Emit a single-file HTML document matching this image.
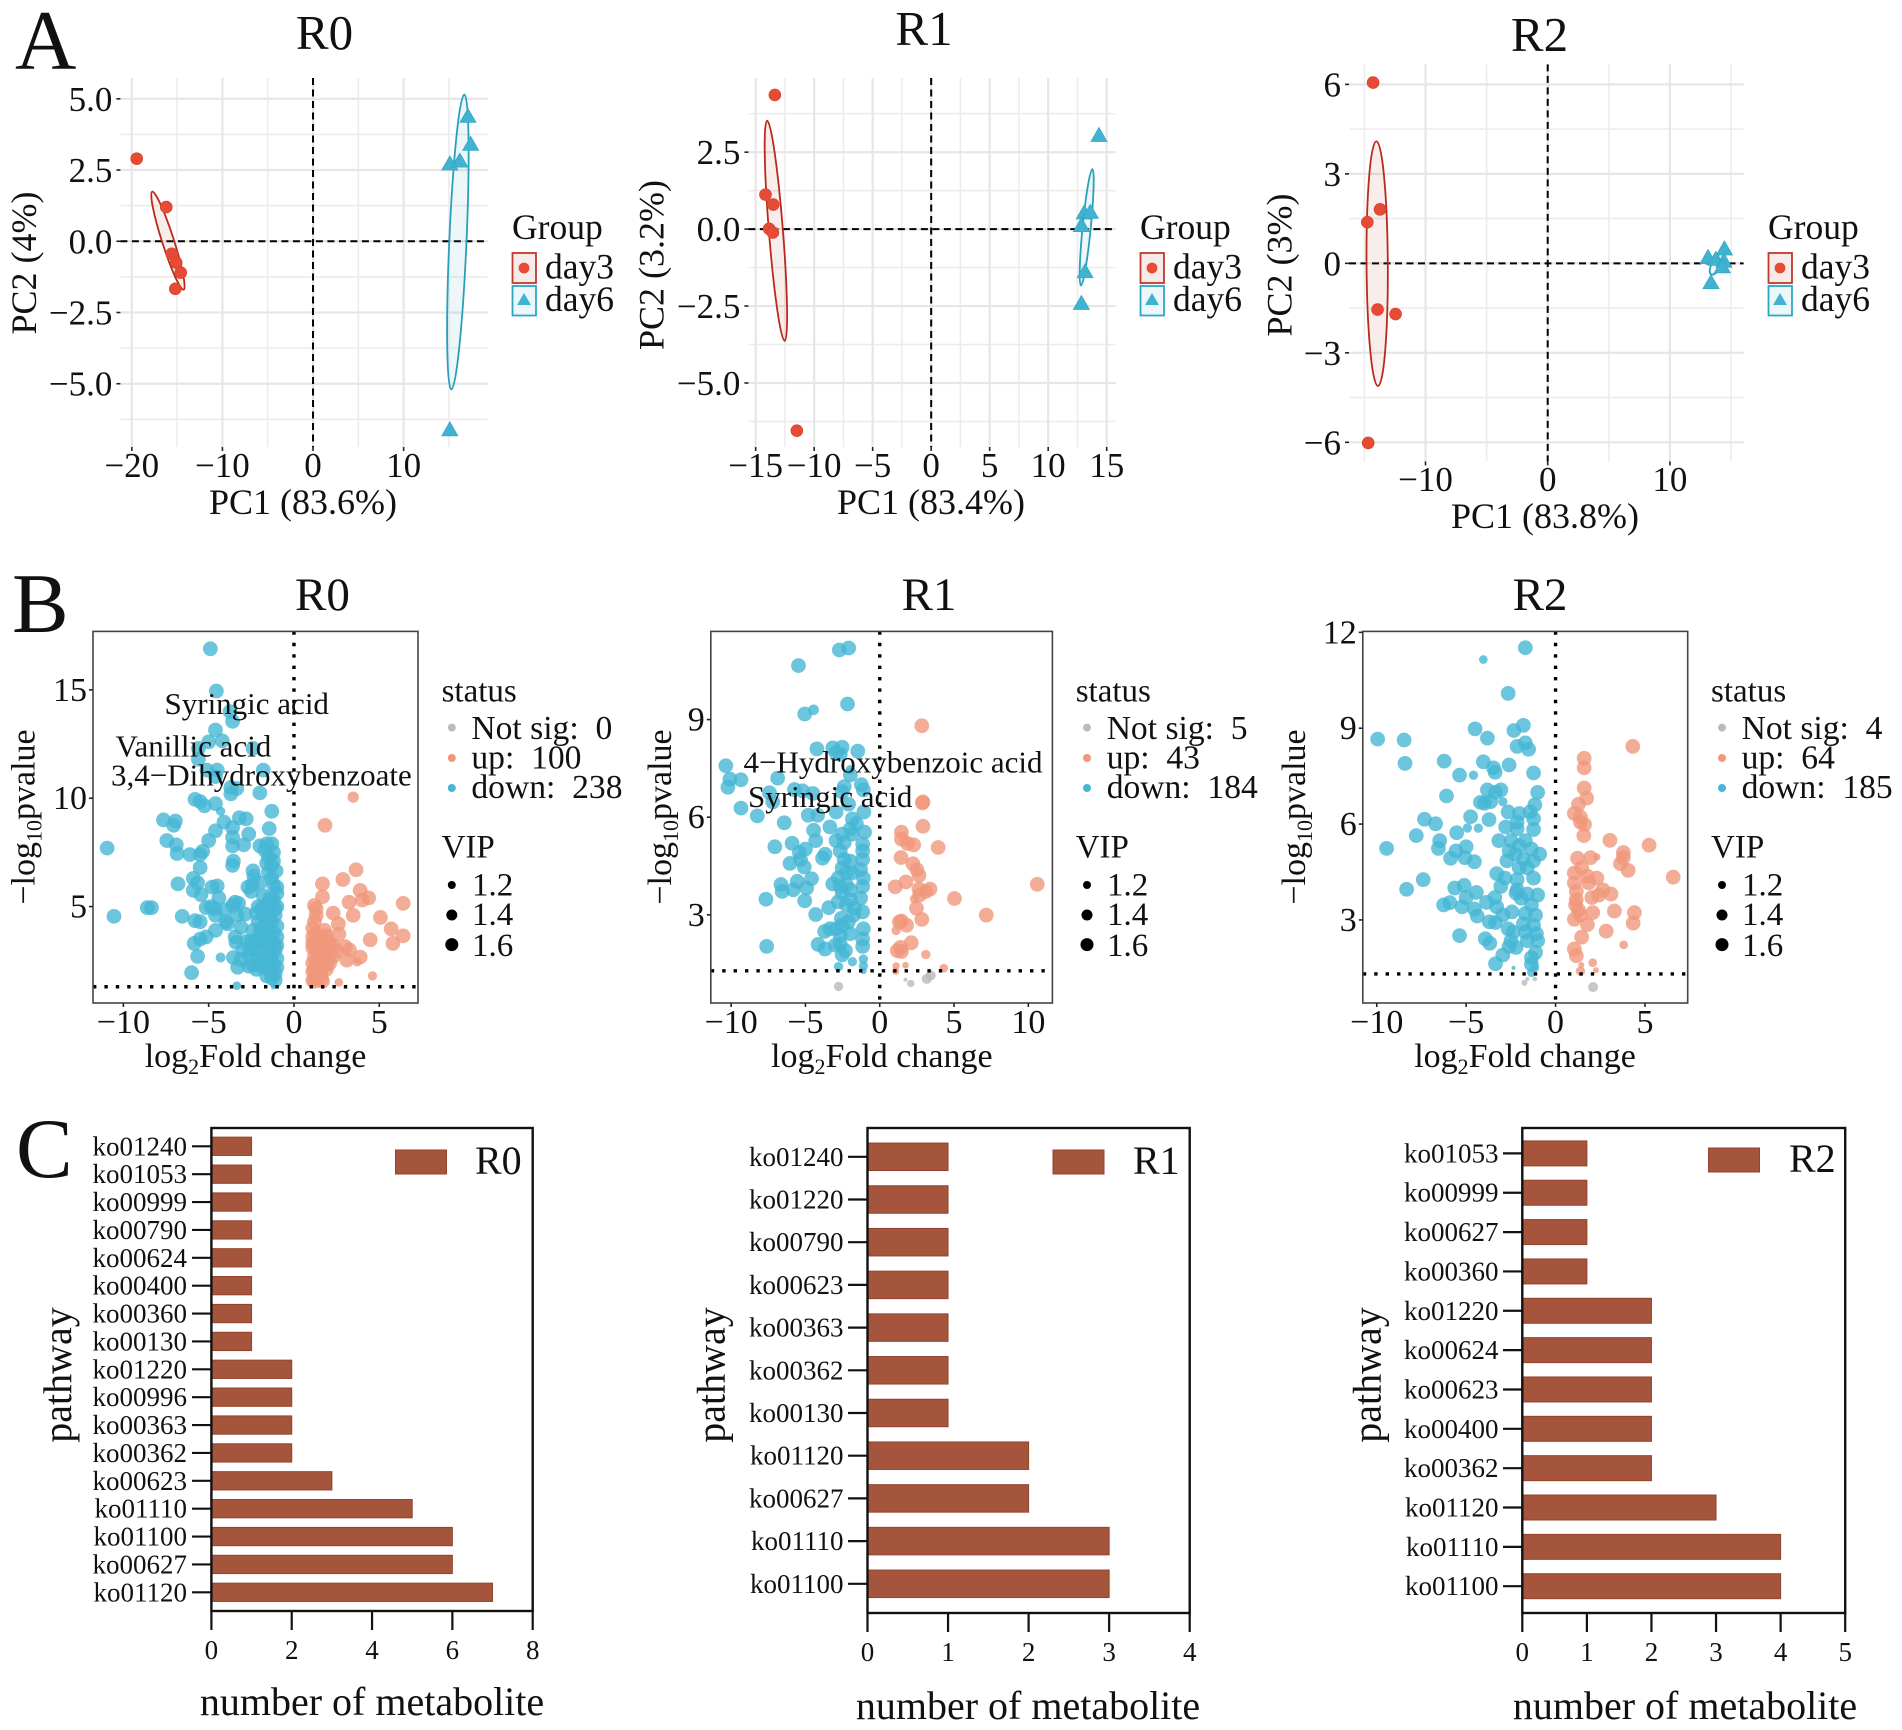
<!DOCTYPE html>
<html lang="en">
<head>
<meta charset="utf-8">
<title>Metabolomics multi-panel figure</title>
<style>
html,body{margin:0;padding:0;background:#fff;}
svg{display:block;}
text{font-family:"Liberation Serif",serif;fill:#111;white-space:pre;}
</style>
</head>
<body>
<svg id="figure" xmlns="http://www.w3.org/2000/svg" width="1902" height="1730" viewBox="0 0 1902 1730">
<rect x="0" y="0" width="1902" height="1730" fill="#fff"/>

<!-- Panel letters -->
<text x="15" y="69" font-size="85">A</text>
<text x="12" y="632" font-size="85">B</text>
<text x="16" y="1177" font-size="85">C</text>

<!-- A: PCA -->
<g id="pca-r0"></g>
<g id="pca-r1"></g>
<g id="pca-r2"></g>

<text x="324.5" y="49" font-size="49" text-anchor="middle">R0</text>
<text x="924" y="45" font-size="49" text-anchor="middle">R1</text>
<text x="1539.5" y="51" font-size="49" text-anchor="middle">R2</text>
<text x="303" y="514" font-size="36" text-anchor="middle">PC1 (83.6%)</text>
<text x="931" y="514" font-size="36" text-anchor="middle">PC1 (83.4%)</text>
<text x="1545" y="528" font-size="36" text-anchor="middle">PC1 (83.8%)</text>
<text x="36" y="263" font-size="36" text-anchor="middle" transform="rotate(-90 36 263)">PC2 (4%)</text>
<text x="663.5" y="265" font-size="36" text-anchor="middle" transform="rotate(-90 663.5 265)">PC2 (3.2%)</text>
<text x="1291.4" y="265" font-size="36" text-anchor="middle" transform="rotate(-90 1291.4 265)">PC2 (3%)</text>

<!-- A legends -->
<g>
<text x="512" y="239" font-size="35.5">Group</text>
<rect x="512.5" y="253" width="23.5" height="30" fill="#f6ebe8" stroke="#c0392b" stroke-width="1.8"/>
<circle cx="524" cy="268" r="5.4" fill="#e64b35"/>
<text x="545" y="278.5" font-size="35.5">day3</text>
<rect x="512.5" y="286" width="23.5" height="29.5" fill="#ecf7fa" stroke="#2ea6c4" stroke-width="1.8"/>
<polygon points="524,293 531,305 517,305" fill="#3fb3d0"/>
<text x="545" y="311" font-size="35.5">day6</text>
</g>
<g>
<text x="1140" y="239" font-size="35.5">Group</text>
<rect x="1140.5" y="253" width="23.5" height="30" fill="#f6ebe8" stroke="#c0392b" stroke-width="1.8"/>
<circle cx="1152" cy="268" r="5.4" fill="#e64b35"/>
<text x="1173" y="278.5" font-size="35.5">day3</text>
<rect x="1140.5" y="286" width="23.5" height="29.5" fill="#ecf7fa" stroke="#2ea6c4" stroke-width="1.8"/>
<polygon points="1152,293 1159,305 1145,305" fill="#3fb3d0"/>
<text x="1173" y="311" font-size="35.5">day6</text>
</g>
<g>
<text x="1768" y="239" font-size="35.5">Group</text>
<rect x="1768.5" y="253" width="23.5" height="30" fill="#f6ebe8" stroke="#c0392b" stroke-width="1.8"/>
<circle cx="1780" cy="268" r="5.4" fill="#e64b35"/>
<text x="1801" y="278.5" font-size="35.5">day3</text>
<rect x="1768.5" y="286" width="23.5" height="29.5" fill="#ecf7fa" stroke="#2ea6c4" stroke-width="1.8"/>
<polygon points="1780,293 1787,305 1773,305" fill="#3fb3d0"/>
<text x="1801" y="311" font-size="35.5">day6</text>
</g>

<!-- B: Volcano -->
<g id="volcano-r0"></g>
<g id="volcano-r1"></g>
<g id="volcano-r2"></g>

<text x="322.4" y="610" font-size="47" text-anchor="middle">R0</text>
<text x="929" y="610" font-size="47" text-anchor="middle">R1</text>
<text x="1540" y="610" font-size="47" text-anchor="middle">R2</text>

<text x="255.5" y="1067" font-size="34" text-anchor="middle">log<tspan font-size="22" dy="7">2</tspan><tspan dy="-7">Fold change</tspan></text>
<text x="881.8" y="1067" font-size="34" text-anchor="middle">log<tspan font-size="22" dy="7">2</tspan><tspan dy="-7">Fold change</tspan></text>
<text x="1525" y="1067" font-size="34" text-anchor="middle">log<tspan font-size="22" dy="7">2</tspan><tspan dy="-7">Fold change</tspan></text>
<text x="34.7" y="817" font-size="34" text-anchor="middle" transform="rotate(-90 34.7 817)">−log<tspan font-size="22" dy="7">10</tspan><tspan dy="-7">pvalue</tspan></text>
<text x="670.8" y="817" font-size="34" text-anchor="middle" transform="rotate(-90 670.8 817)">−log<tspan font-size="22" dy="7">10</tspan><tspan dy="-7">pvalue</tspan></text>
<text x="1305" y="817" font-size="34" text-anchor="middle" transform="rotate(-90 1305 817)">−log<tspan font-size="22" dy="7">10</tspan><tspan dy="-7">pvalue</tspan></text>

<text x="164.5" y="714" font-size="31">Syringic acid</text>
<text x="115.5" y="756.4" font-size="31">Vanillic acid</text>
<text x="111" y="785.3" font-size="31">3,4−Dihydroxybenzoate</text>
<text x="743.5" y="772.7" font-size="31">4−Hydroxybenzoic acid</text>
<text x="748" y="807" font-size="31">Syringic acid</text>

<!-- B legends -->
<g>
<text x="441.6" y="701.5" font-size="33">status</text>
<circle cx="451.8" cy="727.6" r="4" fill="#bbb"/>
<text x="471.4" y="738.8" font-size="33.6">Not sig:  0</text>
<circle cx="451.8" cy="758" r="4" fill="#f0977c"/>
<text x="471.4" y="768.3" font-size="33.6">up:  100</text>
<circle cx="451.8" cy="788" r="4" fill="#45b6d4"/>
<text x="471.4" y="797.8" font-size="33.6">down:  238</text>
<text x="441.6" y="857.5" font-size="33">VIP</text>
<circle cx="451.8" cy="885" r="4" fill="#000"/>
<text x="472" y="895.4" font-size="33">1.2</text>
<circle cx="451.8" cy="915" r="5.5" fill="#000"/>
<text x="472" y="925" font-size="33">1.4</text>
<circle cx="451.8" cy="944.6" r="6.5" fill="#000"/>
<text x="472" y="955.8" font-size="33">1.6</text>
</g>
<g>
<text x="1075.7" y="701.5" font-size="33">status</text>
<circle cx="1087" cy="727.6" r="4" fill="#bbb"/>
<text x="1106.7" y="738.8" font-size="33.6">Not sig:  5</text>
<circle cx="1087" cy="758" r="4" fill="#f0977c"/>
<text x="1106.7" y="768.3" font-size="33.6">up:  43</text>
<circle cx="1087" cy="788" r="4" fill="#45b6d4"/>
<text x="1106.7" y="797.8" font-size="33.6">down:  184</text>
<text x="1075.7" y="857.5" font-size="33">VIP</text>
<circle cx="1087" cy="885" r="4" fill="#000"/>
<text x="1107" y="895.4" font-size="33">1.2</text>
<circle cx="1087" cy="915" r="5.5" fill="#000"/>
<text x="1107" y="925" font-size="33">1.4</text>
<circle cx="1087" cy="944.6" r="6.5" fill="#000"/>
<text x="1107" y="955.8" font-size="33">1.6</text>
</g>
<g>
<text x="1711" y="701.5" font-size="33">status</text>
<circle cx="1722" cy="727.6" r="4" fill="#bbb"/>
<text x="1741.6" y="738.8" font-size="33.6">Not sig:  4</text>
<circle cx="1722" cy="758" r="4" fill="#f0977c"/>
<text x="1741.6" y="768.3" font-size="33.6">up:  64</text>
<circle cx="1722" cy="788" r="4" fill="#45b6d4"/>
<text x="1741.6" y="797.8" font-size="33.6">down:  185</text>
<text x="1711" y="857.5" font-size="33">VIP</text>
<circle cx="1722" cy="885" r="4" fill="#000"/>
<text x="1742" y="895.4" font-size="33">1.2</text>
<circle cx="1722" cy="915" r="5.5" fill="#000"/>
<text x="1742" y="925" font-size="33">1.4</text>
<circle cx="1722" cy="944.6" r="6.5" fill="#000"/>
<text x="1742" y="955.8" font-size="33">1.6</text>
</g>

<!-- C: Bars -->
<g id="bars-r0"></g>
<g id="bars-r1"></g>
<g id="bars-r2"></g>

<text x="372" y="1715" font-size="40" text-anchor="middle">number of metabolite</text>
<text x="1028" y="1719" font-size="40" text-anchor="middle">number of metabolite</text>
<text x="1685" y="1719" font-size="40" text-anchor="middle">number of metabolite</text>
<text x="71" y="1375" font-size="40" text-anchor="middle" transform="rotate(-90 71 1375)">pathway</text>
<text x="724.5" y="1375" font-size="40" text-anchor="middle" transform="rotate(-90 724.5 1375)">pathway</text>
<text x="1380.5" y="1375" font-size="40" text-anchor="middle" transform="rotate(-90 1380.5 1375)">pathway</text>

<rect x="395.5" y="1150" width="51" height="24" fill="#a5553b" stroke="#93442c" stroke-width="1"/>
<text x="475" y="1174" font-size="40">R0</text>
<rect x="1053" y="1150" width="51" height="24" fill="#a5553b" stroke="#93442c" stroke-width="1"/>
<text x="1133" y="1174" font-size="40">R1</text>
<rect x="1708.5" y="1148" width="51" height="24" fill="#a5553b" stroke="#93442c" stroke-width="1"/>
<text x="1789" y="1172" font-size="40">R2</text>
</svg>

<script>
/* ===== A: PCA data (PC1, PC2) ===== */
const pcaR0Day3 = [[-19.46,2.9],[-16.2,1.2],[-15.6,-0.44],[-15.1,-0.75],[-14.6,-1.1],[-15.2,-1.67]];
const pcaR0Day6 = [[15.1,2.73],[16.2,2.83],[17.1,4.4],[17.4,3.42],[15.1,-6.6]];
const pcaR0EllipseDay3 = [-17.75,1.74,-14.28,-1.7,1.3];
const pcaR0EllipseDay6 = [16.7,5.15,15.27,-5.2,1.9];
const pcaR0XTicks = [-20,-10,0,10];
const pcaR0XMinor = [-15,-5,5,15];
const pcaR0YTicks = [5,2.5,0,-2.5,-5];
const pcaR0YLabels = ["5.0","2.5","0.0","−2.5","−5.0"];
const pcaR0YMinor = [3.75,1.25,-1.25,-3.75,-6.25];

const pcaR1Day3 = [[-13.36,4.36],[-14.16,1.12],[-13.5,0.8],[-13.85,0.01],[-13.53,-0.11],[-11.48,-6.55]];
const pcaR1Day6 = [[14.34,3.06],[13.08,0.54],[13.6,0.56],[12.84,0.13],[13.15,-1.37],[12.84,-2.4]];
const pcaR1EllipseDay3 = [-14.02,3.52,-12.52,-3.63,1.2];
const pcaR1EllipseDay6 = [13.78,1.95,12.8,-1.83,0.7];
const pcaR1XTicks = [-15,-10,-5,0,5,10,15];
const pcaR1XMinor = [-12.5,-7.5,-2.5,2.5,7.5,12.5];
const pcaR1YTicks = [2.5,0,-2.5,-5];
const pcaR1YLabels = ["2.5","0.0","−2.5","−5.0"];
const pcaR1YMinor = [3.75,1.25,-1.25,-3.75,-6.25];

const pcaR2Day3 = [[-14.29,6.06],[-13.72,1.81],[-14.76,1.38],[-13.92,-1.55],[-12.45,-1.7],[-14.69,-6.02]];
const pcaR2Day6 = [[14.46,0.5],[13.12,0.21],[13.76,0.15],[14.42,0.09],[14.29,-0.1],[13.36,-0.63]];
const pcaR2EllipseDay3 = [-14.02,4.09,-13.89,-4.11,1.74];
const pcaR2EllipseDay6 = [14.36,0.32,13.36,-0.37,0.8];
const pcaR2XTicks = [-10,0,10];
const pcaR2XMinor = [-15,-5,5,15];
const pcaR2YTicks = [6,3,0,-3,-6];
const pcaR2YLabels = ["6","3","0","−3","−6"];
const pcaR2YMinor = [4.5,1.5,-1.5,-4.5];

/* ===== B: Volcano data [log2FC, -log10p, optional VIP] ===== */
const volcanoR0Down = [[-4.9,16.9],[-4.55,14.95],[-3.75,14],[-3.6,13.55],[-4.6,13.15],[-5,12.6],[-4.2,12.65],[-5.6,12.3],[-2.4,12.3],[-5.6,11.8],[-5.1,11.3],[-4.5,11.3],[-1.8,11.3],[-4.6,11],[-3.7,10.5],[-3.35,10.45],[-3.7,10.2],[-2,10.25],[-5.8,9.95],[-5.5,9.85],[-5.25,9.65],[-4.6,9.75],[-4.3,9.4,1.3],[-1.3,9.4],[-7.65,9],[-6.95,8.95],[-7.05,8.75],[-3.2,9.1],[-2.8,9.05],[-4.1,8.9],[-3.6,8.65],[-4.6,8.5],[-2.65,8.35],[-1.45,8.6],[-7.45,8.05],[-5,8.05],[-3.6,8.2],[-3.6,7.8],[-2.95,7.85],[-10.95,7.7],[-6.9,7.85],[-6.85,7.45],[-6.1,7.4],[-5.5,7.4],[-5.35,7.55],[-5.5,6.8],[-3.55,7.1],[-3.6,6.9],
[-6.8,6.05],[-5.9,6.3],[-5.65,6.1],[-5.9,5.75],[-5.45,5.55],[-4.8,5.9],[-4.5,5.95],[-5.15,4.95],[-4.85,5],[-4.65,4.9],[-4.4,5.4],[-6.55,4.55],[-5.8,4.35],[-5.5,4.3],[-8.6,4.95],[-8.35,4.95],[-10.55,4.55],[-4.6,4.6],[-4.05,4.85],[-3.45,5.2],[-3.6,5.05],[-3.25,5.15],[-2.85,4.65],[-3.35,4.6],[-3.9,4.2],[-4,4.3],[-3.1,4.05],[-4.6,3.9],[-5.5,3.5],[-5.15,3.6],[-5.85,3.3],[-3.45,3.6],[-3.4,3.35],[-2.75,3.4],[-3,3],[-5.65,2.7],[-4.3,2.65,1.35],[-3.55,2.65],[-3.1,2.55],[-3.3,2.2],[-2.65,2.25],[-6,1.95],[-3.35,1.35,1.25],
[-2,7.8],[-1.6,7.9],[-1.3,7.9],[-1.7,7.6],[-1.2,7.5],[-1.5,7.3],[-1.2,7.1],[-2.4,6.65],[-2.35,6.4],[-2.7,5.9],[-2.5,5.7],[-2.45,6],[-2,6.1],[-1.5,6.6],[-1.3,6.3],[-1.05,6.65],[-1.6,7],[-1.3,6.9],[-1.2,6],[-1,5.9],[-1,5.6],[-1.4,5.4],[-1.8,5.5],[-1.2,5.3],[-2.1,5],[-1.7,5],[-1.3,5],[-1,5],[-2.2,4.7],[-1.8,4.6],[-1.4,4.7],[-1.1,4.6],[-2.1,4.3],[-1.7,4.2],[-1.3,4.3],[-1,4.1],[-2.4,3.9],[-2,3.8],[-1.6,3.9],[-1.2,3.8],[-1,3.6],[-2.5,3.4],[-2.1,3.4],[-1.7,3.4],[-1.3,3.4],[-1,3.2],[-2.6,3],[-2.3,3],[-1.9,3],[-1.5,3],[-1.1,3],[-2.6,2.7],[-2.2,2.6],[-1.8,2.6],[-1.4,2.7],[-1,2.6],[-2.4,2.3],[-2,2.3],[-1.6,2.4],[-1.2,2.3],[-1,2.2],[-1.4,2],[-1.1,1.9],[-1.6,1.8],[-1.3,1.7],[-1.1,1.6],[-1.2,1.3,1.0],
[-2.3,3.4],[-1.9,3.6],[-1.5,3.6],[-1.8,2.2],[-2.2,2.1],[-1.9,4],[-1.5,4.4],[-1.9,4.9],[-1.5,5.2],[-1.1,4.9],[-1.5,2.2],[-1.3,2.5],[-1.15,3.3],[-1.4,3.15]];
const volcanoR0Up = [[3.47,10.05,1.45],[1.82,8.75],[3.64,6.7],[2.87,6.25],[1.67,6.05],[3.88,5.75],[4.38,5.4],[4,5.3],[3.23,5.2],[6.4,5.15],[1.67,5.45],[1.2,5.05],[1.3,4.9],[2.3,4.7],[3.47,4.6],[5.07,4.5],[2.6,4.2],[5.7,3.97],[6.4,3.65],[4.47,3.47],[5.8,3.3],[4.6,1.8,1.3],[3.88,2.67],[3.7,2.45,1.3],[3.1,2.53],[3,3.15],[3.25,3],[2.63,3.73],[1.8,3.9],[1.9,3.65],[1.2,4.3],[1.1,4],[1.3,3.75],[2.3,3.2],[2.5,2.95],[1.67,3.1],[1.1,3.1],[1.2,2.7],[1.8,2.7],[2.3,2.7],[1.3,2.3],[1.9,2.3],[1.1,2],[1.55,1.95],[1.2,1.55],[1.67,1.55],[2.63,1.5,1.25],[1.1,3.6],[1.4,3.4],[1.5,3],[1.4,2.6],[1.6,2.4],[1.1,2.4],[1.3,1.7],[1.1,1.6],[1.5,2.1],[1.9,3],[2.1,3.3],[2,2.6],[1.3,4.6],[1.1,3.3],[1.3,3.1],[1.6,2.8],[1.9,2.1],[1.2,2.1],[1.6,1.7],[2.1,2.4],[1.5,3.6],[2,3.4]];
const volcanoR0NotSig = [];
const volcanoR0XTicks = [-10,-5,0,5];
const volcanoR0YTicks = [5,10,15];
const volcanoR0Threshold = [1.3, 0];

const volcanoR1Down = [[-2.72,11.14],[-2.09,11.2],[-5.47,10.66],[-2.17,9.48],[-4.45,9.3,1.4],[-5.05,9.17],[-4.23,8.1],[-3.16,8.13],[-2.53,8.15],[-1.48,8.03],[-2.94,7.98],[-2.66,7.93],[-10.36,7.58],[-1.98,7.46,1.3],[-10.08,7.17],[-9.34,7.15],[-10.22,6.92],[-6.87,7.2],[-1.98,7.3],[-7.42,6.75],[-5.74,6.85],[-5.19,6.81],[-4.5,6.73],[-2.39,6.94],[-2.53,6.78],[-1.24,7],[-1.1,6.84],[-9.34,6.28],[-8.24,6.04],[-7.2,6.47],[-6.43,5.83],[-4.81,6.06],[-2.1,6.4],[-2.94,6.16],[-1.07,6.16],[-4.18,6.06],[-1.84,5.95],[-1.57,5.8],[-3.35,5.7],[-4.45,5.6],[-1.02,5.54],[-1.98,5.64],[-2.53,5.48],[-2.94,5.28],[-2.39,5.22],[-1.84,5.48],[-4.31,5.28],[-5.9,5.2],[-7.06,5.09],[-5,5.02],[-5.41,4.91],[-1.15,5.17],[-1.15,4.96],[-3.68,4.86],[-3.85,4.74],[-5.33,4.7],[-6.04,4.58],[-5.08,4.47],[-2.66,4.96],[-2.39,4.7],[-1.98,4.65],[-1.15,4.7],[-2.53,4.44],[-2.25,4.29],[-1.29,4.39],[-1.84,4.29],[-1.1,4.13],[-4.59,4.11],[-5.55,4.03],[-4.92,3.82],[-6.65,3.93],[-6.57,3.72],[-5.82,3.77],[-3.16,3.95],[-2.66,3.87],[-2.25,3.93],[-1.15,3.87],[-2.8,4.13],[-1.98,3.77],[-2.53,3.67],[-7.66,3.48],[-5.05,3.43],[-1.29,3.51],[-1.98,3.46],[-2.8,3.4],[-2.25,3.3],[-3.43,3.22],[-4.31,3.01],[-1.7,3.2],[-1.15,3.09],[-1.76,2.99],[-2.58,2.89],[-2.12,2.78],[-2.53,2.68],[-1.1,2.57],[-2.94,2.57],[-3.35,2.57],[-3.71,2.49],[-1.98,2.42],[-2.66,2.37],[-1.15,2.26],[-7.61,2.03],[-4.15,2.09],[-3.68,1.95],[-2.99,2.07],[-2.66,2.11],[-1.15,2.03],[-2.31,1.9],[-2.53,1.77],[-1.84,1.56,1.3],[-1.1,1.64,1.3],[-1.1,1.43,1.3],[-2.77,1.41,1.3],[-1.1,1.28,1.1]];
const volcanoR1Up = [[2.83,8.81],[2.91,6.47],[2.87,6.44],[2.91,5.72],[1.46,5.54],[1.46,5.33],[1.87,5.19],[2.28,5.15],[3.93,5.07],[1.43,4.76],[2.23,4.57],[2.5,4.39],[2.64,4.21],[1.76,4.01],[1.04,3.86],[2.64,3.79],[3.38,3.79],[3.1,3.72],[10.6,3.94],[2.69,3.61],[2.34,3.49,1.3],[5.03,3.5],[2.47,3.2],[7.17,2.99],[2.83,2.86],[1.46,2.81],[1.32,2.78],[1.81,2.68],[1.1,2.52,1.3],[2.12,2.14],[1.4,2],[1.18,1.9],[1.46,1.87],[3.1,1.78,1.3],[1.1,1.43,1.15],[1.73,1.45,1.1],[4.31,1.36,1.25],[1.07,1.27,1.15]];
const volcanoR1NotSig = [[-2.77,0.8,1.3],[2.09,0.89,1.15],[1.73,1.01,0.9],[3.16,1.03,1.35],[3.43,1.14,1.35]];
const volcanoR1XTicks = [-10,-5,0,5,10];
const volcanoR1YTicks = [3,6,9];
const volcanoR1Threshold = [1.28, 0];

const volcanoR2Down = [[-1.69,11.52],[-4.04,11.15,1.25],[-2.65,10.09],[-1.8,9.09],[-2.33,8.93],[-4.5,8.98],[-3.81,8.69],[-9.95,8.66],[-8.47,8.63],[-1.69,8.54],[-2.15,8.43],[-1.51,8.34],[-8.42,7.9],[-6.23,7.97],[-4.04,7.95],[-3.47,7.76],[-2.6,7.85],[-3.38,7.62],[-1.23,7.6],[-5.37,7.53],[-4.59,7.53,1.3],[-3.81,7.07],[-3.06,7.07],[-3.36,6.99],[-1,6.99],[-6.1,6.88],[-4.2,6.68],[-3.97,6.65],[-3.63,6.7],[-2.95,6.7,1.3],[-1.16,6.6],[-2.65,6.38],[-2.03,6.33],[-1.42,6.38],[-4.75,6.23],[-7.33,6.15],[-6.71,6.01],[-3.72,6.14],[-1.23,6.17],[-2.15,6.06],[-2.79,5.91],[-2.15,5.85],[-1.23,5.83],[-4.93,5.88,1.3],[-4.32,5.87,1.3],[-5.53,5.73],[-7.79,5.64],[-6.48,5.48],[-3.17,5.48],[-2.49,5.48],[-1.69,5.48],[-9.45,5.24],[-6.55,5.24],[-5,5.29],[-5.57,5.16],[-5.87,4.93],[-5.07,4.95],[-4.54,4.82],[-2.03,5.32],[-2.6,5.16],[-1.35,5.22],[-2.26,5.06],[-0.89,5.06],[-2.72,4.85],[-1.8,4.9],[-1.23,4.85],[-2.03,4.63],[-1.58,4.63],[-3.29,4.45],[-2.83,4.31],[-2.15,4.26],[-1.23,4.31],[-7.4,4.26],[-8.33,3.96],[-5.11,4.08],[-5.64,4],[-3.06,4.05],[-2.15,3.94],[-4.43,3.86],[-2.21,3.84],[-1,3.78],[-1.58,3.81],[-5,3.7],[-3.4,3.7],[-1.92,3.68],[-3.86,3.55],[-6.26,3.47],[-5.91,3.54],[-5.23,3.41],[-3.29,3.41],[-1.35,3.47],[-4.54,3.34],[-4.38,3.12],[-2.44,3.25],[-2.95,3.15],[-1.69,3.2],[-1.12,3.15],[-3.7,2.94],[-3.36,2.92],[-1.8,2.88],[-1.23,2.83],[-2.65,2.72],[-2.37,2.62],[-1.69,2.62],[-1.07,2.57],[-5.37,2.51],[-3.93,2.41],[-3.68,2.27],[-1,2.35],[-2.49,2.35],[-1.58,2.35],[-2.6,2.17],[-2.21,2.14],[-2.95,1.9],[-1.12,1.98],[-1.35,1.82],[-3.36,1.63],[-1.35,1.61],[-1.16,1.5,1.25],[-1.35,1.35,1.25],[-2.35,1.5,0.9]];
const volcanoR2Up = [[4.32,8.43],[1.6,8.06],[1.6,7.76],[1.6,7.13],[1.74,6.81],[1.28,6.62],[1.05,6.33],[1.39,6.22],[1.39,6.06],[1.62,5.99],[1.58,5.64],[3.04,5.49],[5.23,5.34],[3.79,5.11],[3.79,4.95],[1.96,4.95],[2.31,4.97,1.15],[1.23,4.93],[3.63,4.76],[4.06,4.55],[1.46,4.63],[1.05,4.47],[6.58,4.34],[1.78,4.37],[2.31,4.31],[1.05,4.16],[1.85,4.16],[2.65,3.94],[3.1,3.81],[1.16,3.89],[2.03,3.7],[2.42,3.78],[1.16,3.63],[1.12,3.47],[3.29,3.28],[4.41,3.23],[1.28,3.31],[2.08,3.23],[1.05,3.02],[1.39,3.15],[4.34,2.9],[1.78,2.85],[2.83,2.65],[1.46,2.46],[3.81,2.22,1.25],[1.05,2.09],[1.16,1.88],[2.08,1.66,1.25],[1.44,1.59,1.05],[1.39,1.4,1.3],[2.26,1.43,1.05]];
const volcanoR2NotSig = [[2.1,0.9,1.35],[-1.74,1.03,1.05],[-1.58,1.15,0.9],[-1.16,1.15,0.95]];
const volcanoR2XTicks = [-10,-5,0,5];
const volcanoR2YTicks = [3,6,9,12];
const volcanoR2Threshold = [1.31, 0];

/* ===== C: Bar data ===== */
const barR0Categories = ["ko01240","ko01053","ko00999","ko00790","ko00624","ko00400","ko00360","ko00130","ko01220","ko00996","ko00363","ko00362","ko00623","ko01110","ko01100","ko00627","ko01120"];
const barR0Values = [1,1,1,1,1,1,1,1,2,2,2,2,3,5,6,6,7];
const barR0XTicks = [0,2,4,6,8];
const barR1Categories = ["ko01240","ko01220","ko00790","ko00623","ko00363","ko00362","ko00130","ko01120","ko00627","ko01110","ko01100"];
const barR1Values = [1,1,1,1,1,1,1,2,2,3,3];
const barR1XTicks = [0,1,2,3,4];
const barR2Categories = ["ko01053","ko00999","ko00627","ko00360","ko01220","ko00624","ko00623","ko00400","ko00362","ko01120","ko01110","ko01100"];
const barR2Values = [1,1,1,1,2,2,2,2,2,3,4,4];
const barR2XTicks = [0,1,2,3,4,5];

/* ===== helpers ===== */
const NS = "http://www.w3.org/2000/svg";
function linear(domain, range) {
  return function (v) {
    return range[0] + (v - domain[0]) * (range[1] - range[0]) / (domain[1] - domain[0]);
  };
}
function mk(tag, parent, attrs) {
  const n = document.createElementNS(NS, tag);
  for (const k in attrs) n.setAttribute(k, attrs[k]);
  parent.appendChild(n);
  return n;
}
function fmt(v) {
  return v < 0 ? "\u2212" + Math.abs(v) : String(v);
}

/* ===== PCA ===== */
function drawEllipse(g, e, sx, sy, stroke, fill) {
  const x1 = sx(e[0]), y1 = sy(e[1]), x2 = sx(e[2]), y2 = sy(e[3]);
  const cx = (x1 + x2) / 2, cy = (y1 + y2) / 2;
  const rx = Math.hypot(x2 - x1, y2 - y1) / 2;
  const ry = Math.abs(sx(e[4]) - sx(0)) / 2;
  const ang = Math.atan2(y2 - y1, x2 - x1) * 180 / Math.PI;
  const n = mk("ellipse", g, {cx: cx, cy: cy, rx: rx, ry: ry, fill: fill, stroke: stroke, "stroke-width": 1.8, transform: "rotate(" + ang + " " + cx + " " + cy + ")"});
  
  
}
function drawPca(c) {
  const g = document.getElementById(c.id);
  const sx = linear(c.xDomain, [c.left, c.right]);
  const sy = linear(c.yDomain, [c.top, c.bottom]);
  c.xMinor.forEach(function (v) {
    const n = mk("line", g, {x1: sx(v), x2: sx(v), y1: c.top, y2: c.bottom, stroke: "#ececec", "stroke-width": 1.6});
    
    
  });
  c.yMinor.forEach(function (v) {
    const n = mk("line", g, {x1: c.left, x2: c.right, y1: sy(v), y2: sy(v), stroke: "#ececec", "stroke-width": 1.6});
    
    
  });
  c.xTicks.forEach(function (v) {
    const n = mk("line", g, {x1: sx(v), x2: sx(v), y1: c.top, y2: c.bottom, stroke: "#e6e6e6", "stroke-width": 2.2});
    
    
    const t = mk("line", g, {x1: sx(v), x2: sx(v), y1: c.bottom, y2: c.bottom + 4, stroke: "#222", "stroke-width": 1.6});
    
    
    const l = mk("text", g, {x: sx(v), y: c.xLabelY, "font-size": 35, "text-anchor": "middle"});
    l.textContent = fmt(v);
    
    
  });
  c.yTicks.forEach(function (v, i) {
    const n = mk("line", g, {x1: c.left, x2: c.right, y1: sy(v), y2: sy(v), stroke: "#e6e6e6", "stroke-width": 2.2});
    
    
    const t = mk("line", g, {x1: c.left - 4, x2: c.left, y1: sy(v), y2: sy(v), stroke: "#222", "stroke-width": 1.6});
    
    
    const l = mk("text", g, {x: c.left - 8, y: sy(v) + 12, "font-size": 35, "text-anchor": "end"});
    l.textContent = c.yLabels[i];
    
    
  });
  const h = mk("line", g, {x1: c.left, x2: c.right, y1: sy(0), y2: sy(0), stroke: "#000", "stroke-width": 2, "stroke-dasharray": "7 4.5"});
  
  
  const v0 = mk("line", g, {x1: sx(0), x2: sx(0), y1: c.top, y2: c.bottom, stroke: "#000", "stroke-width": 2, "stroke-dasharray": "7 4.5"});
  
  
  drawEllipse(g, c.ellipse3, sx, sy, "#b92a1c", "rgba(190,60,40,0.09)");
  drawEllipse(g, c.ellipse6, sx, sy, "#2a9fbd", "rgba(60,170,200,0.09)");
  c.day3.forEach(function (p) {
    const n = mk("circle", g, {cx: sx(p[0]), cy: sy(p[1]), r: 5.9, fill: "#e64b35", stroke: "#d8452f", "stroke-width": 0.8});
    
    
  });
  c.day6.forEach(function (p) {
    const x = sx(p[0]), y = sy(p[1]);
    const n = mk("polygon", g, {points: [x, y - 7.5, x + 8, y + 6.5, x - 8, y + 6.5].join(","), fill: "#3fb3d0", stroke: "#36a8c6", "stroke-width": 0.8});
    
    
  });
}

/* ===== Volcano ===== */
const vipRadius = linear([1.2, 1.6], [4, 6.7]);
function drawSeries(g, sx, sy, pts, color, label) {
  pts.forEach(function (p) {
    const vip = p.length > 2 ? p[2] : 1.7;
    const n = mk("circle", g, {cx: sx(p[0]), cy: sy(p[1]), r: Math.max(1.5, vipRadius(vip)), fill: color, "fill-opacity": 0.8});
    
    
  });
}
function drawVolcano(c) {
  const g = document.getElementById(c.id);
  const sx = linear(c.xDomain, [c.left, c.right]);
  const sy = linear(c.yDomain, [c.bottom, c.top]);
  drawSeries(g, sx, sy, c.notSig, "#b9b9b9", "point-not-sig");
  drawSeries(g, sx, sy, c.up, "#f0977c", "point-up");
  drawSeries(g, sx, sy, c.down, "#45b6d4", "point-down");
  const h = mk("line", g, {x1: c.left, x2: c.right, y1: sy(c.threshold[0]), y2: sy(c.threshold[0]), stroke: "#000", "stroke-width": 3.4, "stroke-dasharray": "3.4 8"});
  
  
  const v = mk("line", g, {x1: sx(c.threshold[1]), x2: sx(c.threshold[1]), y1: c.top, y2: c.bottom, stroke: "#000", "stroke-width": 3.4, "stroke-dasharray": "3.4 8"});
  
  
  const b = mk("rect", g, {x: c.left, y: c.top, width: c.right - c.left, height: c.bottom - c.top, fill: "none", stroke: "#444", "stroke-width": 1.6});
  
  
  c.xTicks.forEach(function (t) {
    const n = mk("line", g, {x1: sx(t), x2: sx(t), y1: c.bottom, y2: c.bottom + 4, stroke: "#222", "stroke-width": 1.6});
    
    
    const l = mk("text", g, {x: sx(t), y: 1033, "font-size": 34, "text-anchor": "middle"});
    l.textContent = fmt(t);
    
    
  });
  c.yTicks.forEach(function (t) {
    const n = mk("line", g, {x1: c.left - 4, x2: c.left, y1: sy(t), y2: sy(t), stroke: "#222", "stroke-width": 1.6});
    
    
    const l = mk("text", g, {x: c.left - 6, y: sy(t) + 11, "font-size": 34, "text-anchor": "end"});
    l.textContent = fmt(t);
    
    
  });
}

/* ===== Bars ===== */
function drawBars(c) {
  const g = document.getElementById(c.id);
  const sx = linear([c.xTicks[0], c.xTicks[c.xTicks.length - 1]], [c.left, c.right]);
  const sy = linear([0, c.categories.length - 1], [c.firstY, c.lastY]);
  c.values.forEach(function (v, i) {
    const n = mk("rect", g, {x: sx(0), y: sy(i) - c.barH / 2, width: sx(v) - sx(0), height: c.barH, fill: "#a5553b", stroke: "#93442c", "stroke-width": 1});
    
    
    const t = mk("line", g, {x1: c.tickLeft, x2: c.left, y1: sy(i), y2: sy(i), stroke: "#111", "stroke-width": 2.2});
    
    
    const l = mk("text", g, {x: c.labelRight, y: sy(i) + 9, "font-size": 27, "text-anchor": "end"});
    l.textContent = c.categories[i];
    
    
  });
  const b = mk("rect", g, {x: c.left, y: c.top, width: c.right - c.left, height: c.bottom - c.top, fill: "none", stroke: "#111", "stroke-width": 2.4});
  
  
  c.xTicks.forEach(function (v) {
    const t = mk("line", g, {x1: sx(v), x2: sx(v), y1: c.bottom, y2: c.bottom + 19, stroke: "#111", "stroke-width": 2.2});
    
    
    const l = mk("text", g, {x: sx(v), y: c.xLabelY, "font-size": 27, "text-anchor": "middle"});
    l.textContent = fmt(v);
    
    
  });
}

/* ===== render ===== */
drawPca({id: "pca-r0", left: 120.4, right: 487.8, top: 78, bottom: 447, xLabelY: 477, xDomain: [-21.26, 19.29], yDomain: [5.73, -7.22], xTicks: pcaR0XTicks, xMinor: pcaR0XMinor, yTicks: pcaR0YTicks, yLabels: pcaR0YLabels, yMinor: pcaR0YMinor, day3: pcaR0Day3, day6: pcaR0Day6, ellipse3: pcaR0EllipseDay3, ellipse6: pcaR0EllipseDay6});
drawPca({id: "pca-r1", left: 748.4, right: 1115.7, top: 78, bottom: 447, xLabelY: 477, xDomain: [-15.62, 15.77], yDomain: [4.91, -7.08], xTicks: pcaR1XTicks, xMinor: pcaR1XMinor, yTicks: pcaR1YTicks, yLabels: pcaR1YLabels, yMinor: pcaR1YMinor, day3: pcaR1Day3, day6: pcaR1Day6, ellipse3: pcaR1EllipseDay3, ellipse6: pcaR1EllipseDay6});
drawPca({id: "pca-r2", left: 1349, right: 1743.6, top: 64.4, bottom: 461.4, xLabelY: 491, xDomain: [-16.26, 16.03], yDomain: [6.67, -6.64], xTicks: pcaR2XTicks, xMinor: pcaR2XMinor, yTicks: pcaR2YTicks, yLabels: pcaR2YLabels, yMinor: pcaR2YMinor, day3: pcaR2Day3, day6: pcaR2Day6, ellipse3: pcaR2EllipseDay3, ellipse6: pcaR2EllipseDay6});

drawVolcano({id: "volcano-r0", left: 93, right: 418, top: 631.4, bottom: 1003, xDomain: [-11.78, 7.27], yDomain: [0.55, 17.7], xTicks: volcanoR0XTicks, yTicks: volcanoR0YTicks, threshold: volcanoR0Threshold, down: volcanoR0Down, up: volcanoR0Up, notSig: volcanoR0NotSig});
drawVolcano({id: "volcano-r1", left: 710.8, right: 1052.4, top: 631.4, bottom: 1003, xDomain: [-11.37, 11.62], yDomain: [0.29, 11.71], xTicks: volcanoR1XTicks, yTicks: volcanoR1YTicks, threshold: volcanoR1Threshold, down: volcanoR1Down, up: volcanoR1Up, notSig: volcanoR1NotSig});
drawVolcano({id: "volcano-r2", left: 1362.8, right: 1687.7, top: 631.4, bottom: 1003, xDomain: [-10.78, 7.39], yDomain: [0.4, 12.03], xTicks: volcanoR2XTicks, yTicks: volcanoR2YTicks, threshold: volcanoR2Threshold, down: volcanoR2Down, up: volcanoR2Up, notSig: volcanoR2NotSig});

drawBars({id: "bars-r0", left: 211.4, right: 532.7, top: 1128, bottom: 1611, firstY: 1146.3, lastY: 1592.3, barH: 18.3, tickLeft: 192, labelRight: 187, xLabelY: 1659, categories: barR0Categories, values: barR0Values, xTicks: barR0XTicks});
drawBars({id: "bars-r1", left: 867.5, right: 1189.7, top: 1128, bottom: 1613, firstY: 1156.8, lastY: 1583.8, barH: 27.5, tickLeft: 848, labelRight: 843.5, xLabelY: 1661, categories: barR1Categories, values: barR1Values, xTicks: barR1XTicks});
drawBars({id: "bars-r2", left: 1522.3, right: 1845.2, top: 1128, bottom: 1613, firstY: 1153.4, lastY: 1586.2, barH: 25, tickLeft: 1503, labelRight: 1498.5, xLabelY: 1661, categories: barR2Categories, values: barR2Values, xTicks: barR2XTicks});
</script>
</body>
</html>
